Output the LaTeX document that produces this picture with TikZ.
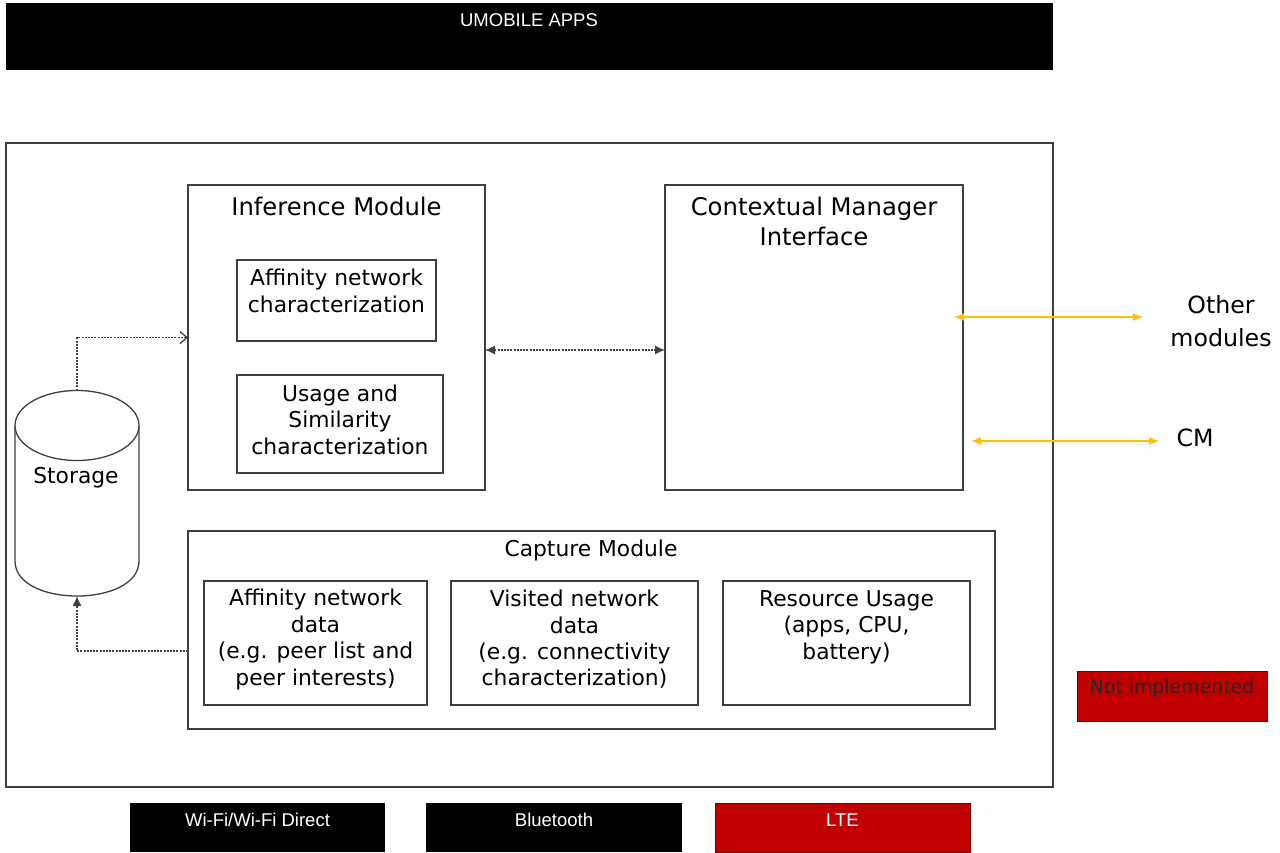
\documentclass[tikz,border=0pt]{standalone}
\usepackage{fontspec}
\setmainfont{DejaVu Sans}
\newfontfamily\arialf{Liberation Sans}
\usetikzlibrary{arrows.meta,calc}
\definecolor{umred}{HTML}{C00000}
\definecolor{umorange}{HTML}{FFC000}
\definecolor{umgray}{HTML}{404040}
\begin{document}
\begin{tikzpicture}[x=1pt,y=-1pt,
  box/.style={draw=umgray, line width=1.3pt, fill=white, inner sep=0pt, outer sep=0pt, anchor=north west},
  barbox/.style={fill=black, draw=none, inner sep=0pt, outer sep=0pt, anchor=north west},
  redbox/.style={fill=umred, draw=umred!60!black, line width=0.8pt, inner sep=0pt, outer sep=0pt, anchor=north west},
  bartxt/.style={text=white, inner sep=0pt, font=\arialf\fontsize{18.5}{22}\selectfont},
  txt/.style={align=center, inner sep=0pt, font=\fontsize{21.8}{26.4}\selectfont},
  titletxt/.style={align=center, inner sep=0pt, font=\fontsize{24.3}{30}\selectfont},
  sidetxt/.style={align=center, inner sep=0pt, font=\fontsize{23.7}{33}\selectfont},
  dotline/.style={draw=umgray, line width=1.3pt, dash pattern=on 2pt off 1.2pt},
  ftip/.tip={Latex[length=10pt,width=9pt]},
  otip/.tip={Latex[length=10pt,width=8pt]},
  orangearrow/.style={draw=umorange, line width=1.3pt, otip-otip}
]
\useasboundingbox (0,0) rectangle (1280,852);

% top bar
\node[barbox, minimum width=1047pt, minimum height=67pt] (apps) at (6,3) {};
\node[bartxt] (appst) at (529,20) {UMOBILE APPS};

% outer frame
\node[box, minimum width=1047pt, minimum height=644pt] (outer) at (6,143) {};

% inference module
\node[box, minimum width=297pt, minimum height=305pt] (inf) at (188,185) {};
\node[titletxt] (inft) at (336.5,206) {Inference Module};
\node[box, minimum width=199pt, minimum height=81pt] (aff) at (237,260) {};
\node[txt] (afft) at (336.5,291) {Affinity network\\characterization};
\node[box, minimum width=206pt, minimum height=98pt] (usg) at (237,375) {};
\node[txt] (usgt) at (340,419.5) {Usage and\\Similarity\\characterization};

% contextual manager interface
\node[box, minimum width=298pt, minimum height=305pt] (cmi) at (665,185) {};
\node[titletxt] (cmit) at (814,221) {Contextual Manager\\Interface};

% capture module
\node[box, minimum width=807pt, minimum height=198pt] (cap) at (188,531) {};
\node[txt] (capt) at (591,550) {Capture Module};
\node[box, minimum width=223pt, minimum height=124pt] (and) at (204,581) {};
\node[txt] (andt) at (315.5,639.5) {Affinity network\\data\\(e.g. peer list and\\peer interests)};
\node[box, minimum width=247pt, minimum height=124pt] (vnd) at (451,581) {};
\node[txt] (vndt) at (574.5,639.5) {Visited network\\data\\(e.g. connectivity\\characterization)};
\node[box, minimum width=247pt, minimum height=124pt] (res) at (723,581) {};
\node[txt] (rest) at (846.5,627) {Resource Usage\\(apps, CPU,\\battery)};

% storage cylinder
\coordinate (sttop) at (77,390.5);
\coordinate (stbot) at (77,596);
\draw[draw=umgray, line width=1.3pt, fill=white]
  (15,425.5) -- (15,561) .. controls (15,607.7) and (139,607.7) .. (139,561) -- (139,425.5);
\draw[draw=umgray, line width=1.3pt, fill=white] (77,425.5) ellipse[x radius=62, y radius=35];
\node[txt] (stt) at (76,478) {Storage};

% connectors
\draw[dotline, -{Straight Barb[length=7pt,width=12pt]}] (sttop) |- (inf.west);
\draw[dotline, -ftip] ([yshift=-21pt]cap.west) -| (stbot);
\draw[dotline, ftip-ftip] ([yshift=-12.5pt]inf.east) -- ([yshift=-12.5pt]cmi.west);

% orange connectors
\coordinate (o1) at (954,317);
\coordinate (o2) at (1143,317);
\coordinate (c1) at (971,441);
\coordinate (c2) at (1159,441);
\draw[orangearrow] (o1) -- (o2);
\draw[orangearrow] (c1) -- (c2);
\node[sidetxt] (omt) at (1221,321.5) {Other\\modules};
\node[sidetxt] (cmt) at (1195,438) {CM};

% legend
\node[redbox, minimum width=190pt, minimum height=50pt] (ni) at (1077,671) {};
\node[inner sep=0pt, text=black!85, font=\fontsize{18.9}{22}\selectfont] (nit) at (1172,688) {Not implemented};

% bottom bars
\node[barbox, minimum width=255pt, minimum height=49pt] (wifi) at (130,803) {};
\node[bartxt] (wifit) at (257.5,820) {Wi-Fi/Wi-Fi Direct};
\node[barbox, minimum width=256pt, minimum height=49pt] (bt) at (426,803) {};
\node[bartxt] (btt) at (554,820) {Bluetooth};
\node[redbox, minimum width=255pt, minimum height=49pt] (lte) at (715,803) {};
\node[bartxt] (ltet) at (842.5,820) {LTE};
\end{tikzpicture}
\end{document}
